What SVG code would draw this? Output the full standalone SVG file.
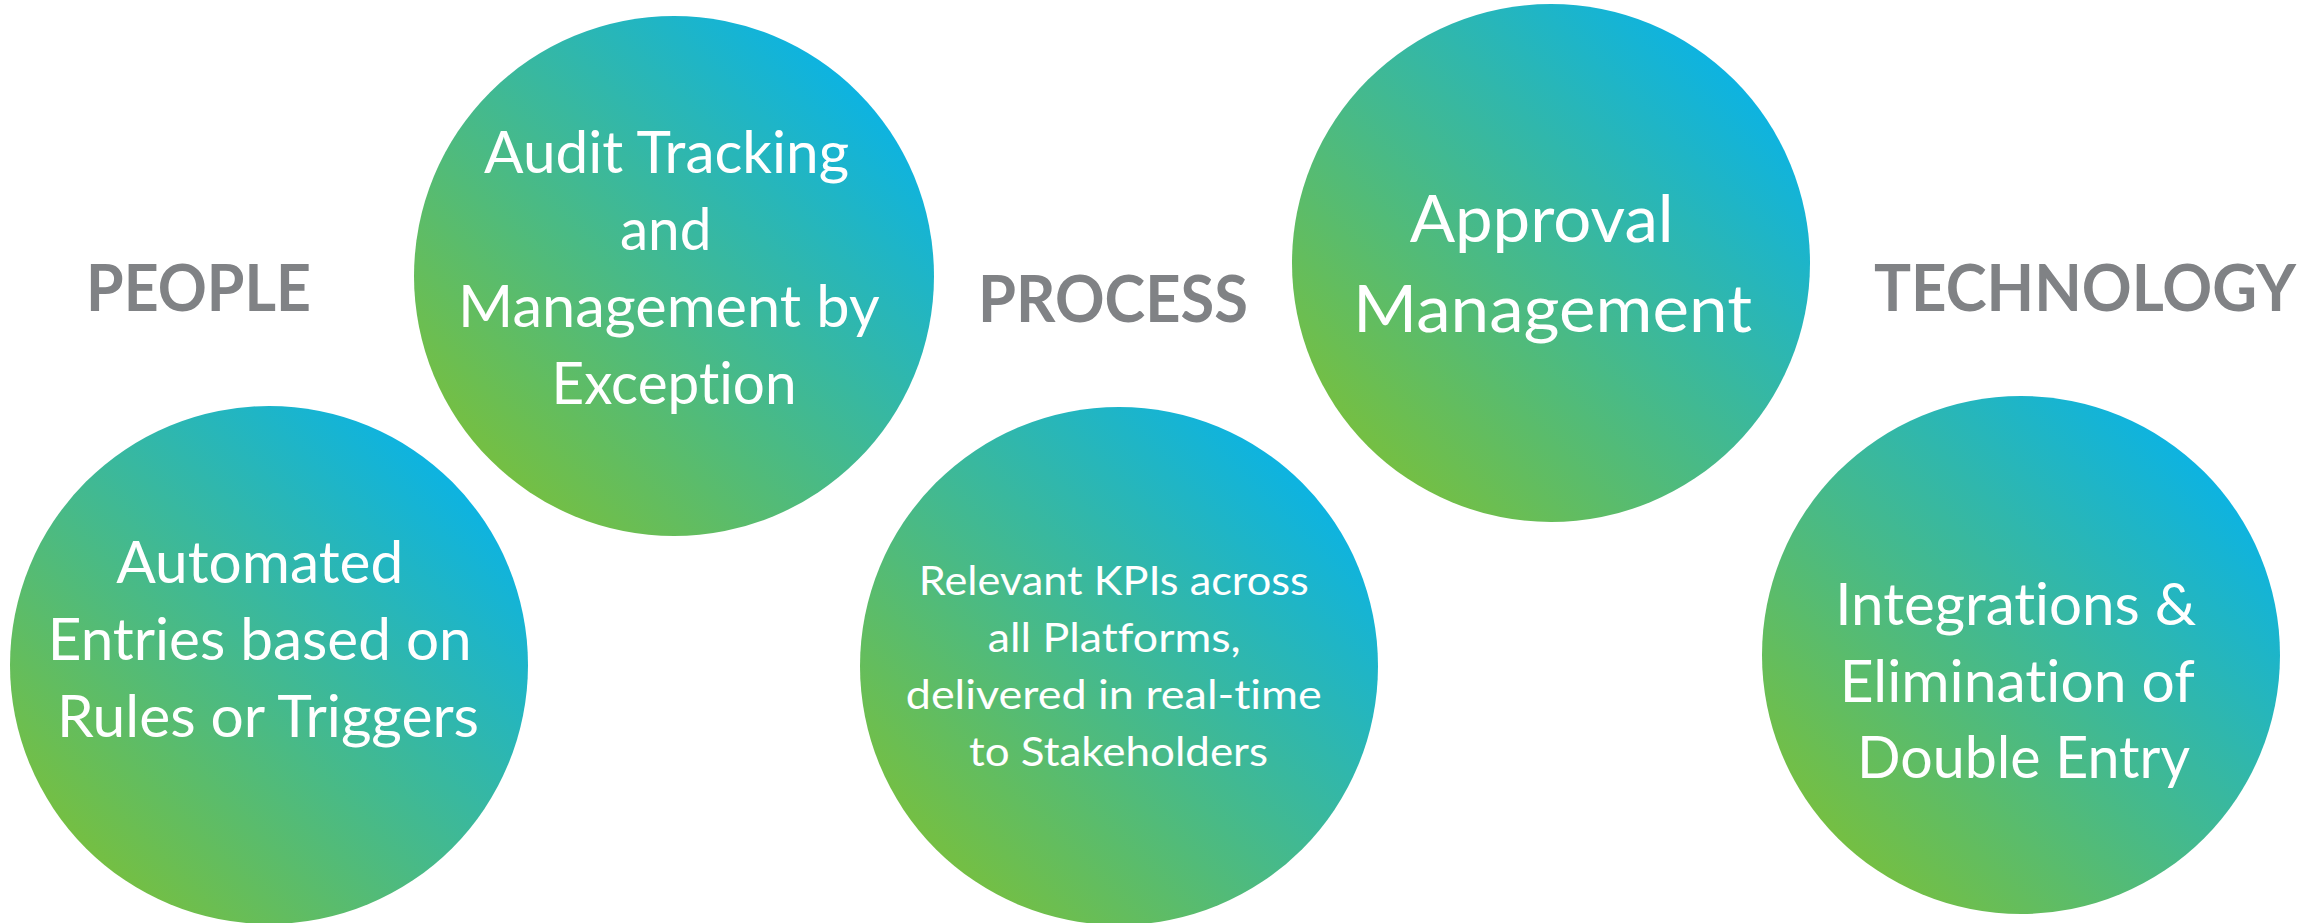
<svg xmlns="http://www.w3.org/2000/svg" width="2318" height="923" viewBox="0 0 2318 923">
  <defs>
    <linearGradient id="grad" x1="0.15" y1="0.85" x2="0.85" y2="0.15">
      <stop offset="0" stop-color="#74bf44"/>
      <stop offset="1" stop-color="#0eb3e0"/>
    </linearGradient>
    <style>
      .bubble { fill: url(#grad); }
      .txt { font-family: Lato, "Open Sans", "Liberation Sans", sans-serif; fill: #ffffff; text-anchor: middle; font-variant-ligatures: none; }
      .label { font-family: Lato, "Open Sans", "Liberation Sans", sans-serif; font-weight: bold; fill: #808285; text-anchor: middle; font-size: 65.6px; }
    </style>
  </defs>
  <rect width="2318" height="923" fill="#ffffff"/>

  <g id="label-people">
    <text class="label" x="198.5" y="311" textLength="225" lengthAdjust="spacingAndGlyphs">PEOPLE</text>
  </g>
  <g id="label-process">
    <text class="label" x="1113" y="322" textLength="270" lengthAdjust="spacingAndGlyphs">PROCESS</text>
  </g>
  <g id="label-technology">
    <text class="label" x="2085" y="310.5" textLength="422" lengthAdjust="spacingAndGlyphs">TECHNOLOGY</text>
  </g>

  <g id="node-automated">
    <circle class="bubble" cx="269" cy="665" r="259"/>
    <text class="txt" font-size="57.1">
      <tspan x="267" y="582.6" textLength="287" lengthAdjust="spacingAndGlyphs">Automated</tspan>
      <tspan x="267" y="659.8" textLength="424" lengthAdjust="spacingAndGlyphs">Entries based on</tspan>
      <tspan x="268" y="736.7" textLength="422" lengthAdjust="spacingAndGlyphs">Rules or Triggers</tspan>
    </text>
  </g>

  <g id="node-audit">
    <circle class="bubble" cx="674" cy="276" r="260"/>
    <text class="txt" font-size="57.5">
      <tspan x="674" y="173" textLength="365" lengthAdjust="spacingAndGlyphs">Audit Tracking</tspan>
      <tspan x="673" y="250" textLength="91.5" lengthAdjust="spacingAndGlyphs">and</tspan>
      <tspan x="675.5" y="327" textLength="420" lengthAdjust="spacingAndGlyphs">Management by</tspan>
      <tspan x="674" y="403.6" textLength="245" lengthAdjust="spacingAndGlyphs">Exception</tspan>
    </text>
  </g>

  <g id="node-kpis">
    <circle class="bubble" cx="1119" cy="666" r="259"/>
    <text class="txt" font-size="41">
      <tspan x="1119" y="594.7" textLength="390" lengthAdjust="spacingAndGlyphs">Relevant KPIs across</tspan>
      <tspan x="1119.5" y="651.8" textLength="253" lengthAdjust="spacingAndGlyphs">all Platforms,</tspan>
      <tspan x="1119" y="709" textLength="416" lengthAdjust="spacingAndGlyphs">delivered in real-time</tspan>
      <tspan x="1118.5" y="766.1" textLength="299" lengthAdjust="spacingAndGlyphs">to Stakeholders</tspan>
    </text>
  </g>

  <g id="node-approval">
    <circle class="bubble" cx="1551" cy="263" r="259"/>
    <text class="txt" font-size="65.3">
      <tspan x="1550" y="242.1" textLength="264" lengthAdjust="spacingAndGlyphs">Approval</tspan>
      <tspan x="1552.5" y="331.6" textLength="399" lengthAdjust="spacingAndGlyphs">Management</tspan>
    </text>
  </g>

  <g id="node-integrations">
    <circle class="bubble" cx="2021" cy="655" r="259"/>
    <text class="txt" font-size="57.1">
      <tspan x="2023" y="625.2" textLength="361" lengthAdjust="spacingAndGlyphs">Integrations &amp;</tspan>
      <tspan x="2024" y="702" textLength="354" lengthAdjust="spacingAndGlyphs">Elimination of</tspan>
      <tspan x="2023.5" y="778.2" textLength="333" lengthAdjust="spacingAndGlyphs">Double Entry</tspan>
    </text>
  </g>

  <g id="connectors"/>
</svg>
